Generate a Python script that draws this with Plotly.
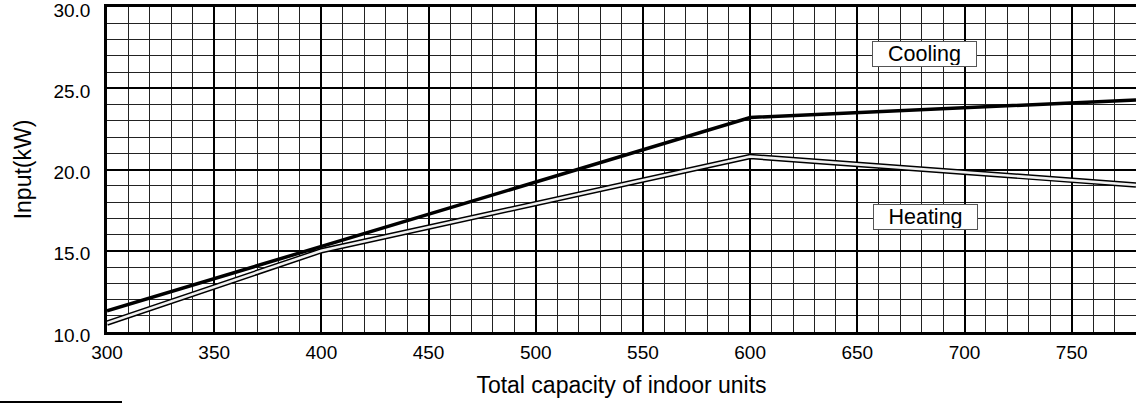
import plotly.graph_objects as go

# ---- data ----
capacity_cooling = [300, 600, 780]
input_cooling = [11.3, 23.2, 24.28]

capacity_heating = [300, 400, 600, 780]
input_heating = [10.55, 15.0, 20.8, 19.05]

x_title = "Total capacity of indoor units"
y_title = "Input(kW)"
label_cooling = "Cooling"
label_heating = "Heating"

FONT = "Liberation Sans, Arial, sans-serif"

fig = go.Figure()
fig.add_trace(go.Scatter(x=capacity_cooling, y=input_cooling, mode="lines",
                         line=dict(color="black", width=3.5), showlegend=False,
                         name=label_cooling))
fig.add_trace(go.Scatter(x=capacity_heating, y=input_heating, mode="lines",
                         line=dict(color="black", width=5.5), showlegend=False,
                         name=label_heating))
fig.add_trace(go.Scatter(x=capacity_heating, y=input_heating, mode="lines",
                         line=dict(color="#f2f2f2", width=2.6), showlegend=False,
                         hoverinfo="skip"))

fig.update_layout(
    width=1136, height=404,
    margin=dict(l=107, r=0, t=7, b=72, autoexpand=False),
    paper_bgcolor="white", plot_bgcolor="white",
    font=dict(family=FONT, color="black"),
    showlegend=False,
)

fig.update_xaxes(
    range=[300, 780], tick0=300, dtick=50, automargin=False,
    showgrid=True, gridcolor="black", gridwidth=1.8,
    minor=dict(dtick=10, tick0=300, showgrid=True, gridcolor="#222222", gridwidth=1),
    showline=True, linecolor="black", linewidth=2.6, mirror=True,
    ticks="", zeroline=False, ticklabeloverflow="allow",
    tickfont=dict(size=19, family=FONT, color="black"),
    ticklabelstandoff=1,
    title=dict(text=x_title, font=dict(size=23, family=FONT, color="black"), standoff=16),
)
fig.update_yaxes(
    range=[10, 30], tick0=10, dtick=5, tickformat=".1f", automargin=False,
    showgrid=True, gridcolor="black", gridwidth=1.8,
    minor=dict(dtick=1, tick0=10, showgrid=True, gridcolor="#222222", gridwidth=1),
    showline=True, linecolor="black", linewidth=2.6, mirror=False,
    ticks="", zeroline=False, ticklabeloverflow="allow",
    tickfont=dict(size=19, family=FONT, color="black"),
    ticklabelstandoff=10, ticklabelshift=3,
    title=dict(text=y_title, font=dict(size=23, family=FONT, color="black"), standoff=16),
)

for txt, xx, yy in [(label_cooling, 681.4, 27.08), (label_heating, 681.9, 17.05)]:
    fig.add_annotation(x=xx, y=yy, xref="x", yref="y", text=txt, showarrow=False,
                       font=dict(size=21.5, family=FONT, color="black"),
                       bgcolor="white", bordercolor="#555555", borderwidth=1,
                       borderpad=1, width=101, height=22)

# short separator line at bottom-left
fig.add_shape(type="line", xref="paper", yref="paper",
              x0=-107 / 1029, x1=15 / 1029, y0=-70 / 325, y1=-70 / 325,
              line=dict(color="black", width=2))

fig.write_html("out.html", config={"displayModeBar": False},
               post_script="document.body.style.margin='0px';")
